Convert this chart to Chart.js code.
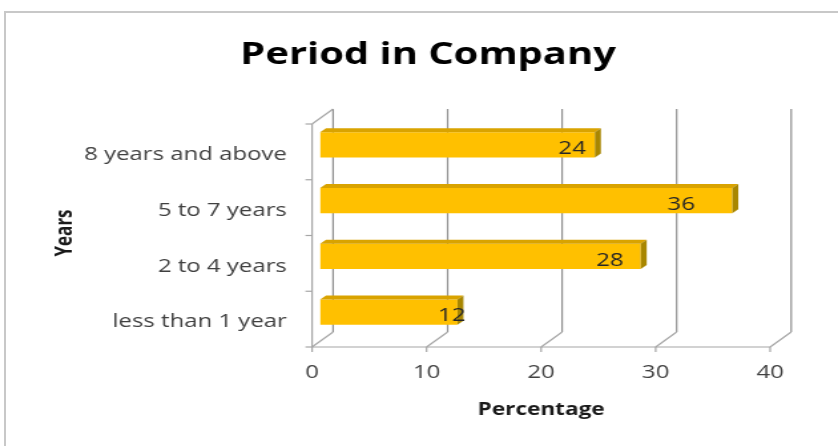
<!DOCTYPE html>
<html><head><meta charset="utf-8">
<script src="https://cdn.jsdelivr.net/npm/chart.js@4.4.1/dist/chart.umd.min.js"></script>
<style>
html,body{margin:0;padding:0;background:#fff;overflow:hidden}
#wrap{position:relative;width:838px;height:446px;overflow:hidden}
#frame{position:absolute;left:4px;top:11px;width:900px;height:500px;border:2px solid #c8c8c8;box-sizing:border-box}
#c{position:absolute;left:0;top:0}
</style></head><body>
<div id="wrap"><div id="frame"></div><canvas id="c" width="630" height="446" style="width:838px;height:446px"></canvas></div>
<script>
const categories = ["8 years and above", "5 to 7 years", "2 to 4 years", "less than 1 year"];
const percentages = [24, 36, 28, 12];
const xTicks = [0, 10, 20, 30, 40];
const chartTitle = "Period in Company";
const xTitle = "Percentage";
const yTitle = "Years";

const FRONT = {dx: -6, dy: 7};
const BACK = {dx: 9.8, dy: -8};
const BAR_DEPTH = {dx: 4.5, dy: -4};

function line(ctx, x1, y1, x2, y2) {
  ctx.beginPath(); ctx.moveTo(x1, y1); ctx.lineTo(x2, y2); ctx.stroke();
}

const threeD = {
  id: 'threeD',
  beforeDatasetsDraw(chart) {
    const {ctx, chartArea: ca, scales: {x: xs, y: ys}} = chart;
    ctx.save();
    ctx.lineWidth = 1.2;
    ctx.strokeStyle = '#8f8f8f';
    xTicks.forEach(t => {
      const px = xs.getPixelForValue(t);
      line(ctx, px + BACK.dx, ca.top + BACK.dy, px + BACK.dx, ca.bottom + BACK.dy);
    });
    ctx.strokeStyle = '#a6a6a6';
    xTicks.forEach(t => {
      const px = xs.getPixelForValue(t);
      line(ctx, px + FRONT.dx, ca.bottom + FRONT.dy, px + BACK.dx, ca.bottom + BACK.dy);
      line(ctx, px + FRONT.dx, ca.bottom + FRONT.dy, px + FRONT.dx, ca.bottom + FRONT.dy + 5);
    });
    const x0 = xs.getPixelForValue(xTicks[0]);
    const xN = xs.getPixelForValue(xTicks[xTicks.length - 1]);
    line(ctx, x0 + FRONT.dx, ca.bottom + FRONT.dy, xN + FRONT.dx, ca.bottom + FRONT.dy);
    line(ctx, x0 + FRONT.dx, ca.top + FRONT.dy, x0 + FRONT.dx, ca.bottom + FRONT.dy);
    line(ctx, x0 + FRONT.dx, ca.top + FRONT.dy, x0 + BACK.dx, ca.top + BACK.dy);
    for (let i = 0; i <= categories.length; i++) {
      const py = ys.getPixelForValue(i - 0.5) + FRONT.dy;
      line(ctx, x0 + FRONT.dx - 5, py, x0 + FRONT.dx, py);
    }
    ctx.restore();
  },
  afterDatasetsDraw(chart) {
    const {ctx, chartArea: ca} = chart;
    const meta = chart.getDatasetMeta(0);
    ctx.save();
    meta.data.forEach((bar, i) => {
      const p = bar.getProps(['x', 'y', 'base', 'height'], true);
      const top = p.y - p.height / 2, bottom = p.y + p.height / 2;
      const xa = p.base, xb = p.x;
      ctx.fillStyle = '#D9A300';
      ctx.beginPath();
      ctx.moveTo(xa, top); ctx.lineTo(xb, top);
      ctx.lineTo(xb + BAR_DEPTH.dx, top + BAR_DEPTH.dy);
      ctx.lineTo(xa + BAR_DEPTH.dx, top + BAR_DEPTH.dy);
      ctx.closePath(); ctx.fill();
      ctx.fillStyle = '#A88600';
      ctx.beginPath();
      ctx.moveTo(xb, top); ctx.lineTo(xb + BAR_DEPTH.dx, top + BAR_DEPTH.dy);
      ctx.lineTo(xb + BAR_DEPTH.dx, bottom + BAR_DEPTH.dy);
      ctx.lineTo(xb, bottom);
      ctx.closePath(); ctx.fill();
      // data label
      const len = xb - ca.left;
      const lx = xb - 0.0004 * len * len;
      ctx.fillStyle = '#262626';
      ctx.font = '18px "Open Sans"';
      ctx.textAlign = 'center';
      ctx.textBaseline = 'middle';
      ctx.fillText(String(percentages[i]), lx, p.y + 4);
    });
    ctx.restore();
  },
  afterDraw(chart) {
    const {ctx, chartArea: ca} = chart;
    ctx.save();
    ctx.fillStyle = '#000';
    ctx.textAlign = 'center';
    ctx.textBaseline = 'alphabetic';
    ctx.font = 'bold 30px "Open Sans"';
    ctx.fillText(chartTitle, 321.8, 64);
    ctx.fillStyle = '#1a1a1a';
    ctx.font = 'bold 17px "Open Sans"';
    ctx.textBaseline = 'middle';
    ctx.fillText(xTitle, (ca.left + ca.right) / 2 + FRONT.dx, 410);
    ctx.translate(49, 233);
    ctx.rotate(-Math.PI / 2);
    ctx.fillText(yTitle, 0, 0);
    ctx.restore();
  }
};

new Chart(document.getElementById('c'), {
  type: 'bar',
  data: {
    labels: categories,
    datasets: [{
      data: percentages,
      backgroundColor: '#FFC000',
      borderWidth: 0,
      barPercentage: 0.45,
      categoryPercentage: 1
    }]
  },
  options: {
    indexAxis: 'y',
    responsive: false,
    animation: false,
    devicePixelRatio: 1,
    layout: {padding: {top: 117, left: 0, right: 45, bottom: 56}},
    plugins: {legend: {display: false}, title: {display: false}, tooltip: {enabled: false}},
    scales: {
      x: {
        min: 0, max: 40,
        afterBuildTicks: s => { s.ticks = xTicks.map(v => ({value: v})); },
        grid: {display: false, drawTicks: false},
        border: {display: false},
        ticks: {padding: 22, labelOffset: -6, color: '#404040', font: {family: 'Open Sans', size: 18}},
        afterFit: s => { s.height = 50; }
      },
      y: {
        grid: {display: false, drawTicks: false},
        border: {display: false},
        ticks: {padding: 25, labelOffset: 10, color: '#404040', font: {family: 'Open Sans', size: 18}},
        afterFit: s => { s.width = 240.6; }
      }
    }
  },
  plugins: [threeD]
});
</script>
</body></html>
